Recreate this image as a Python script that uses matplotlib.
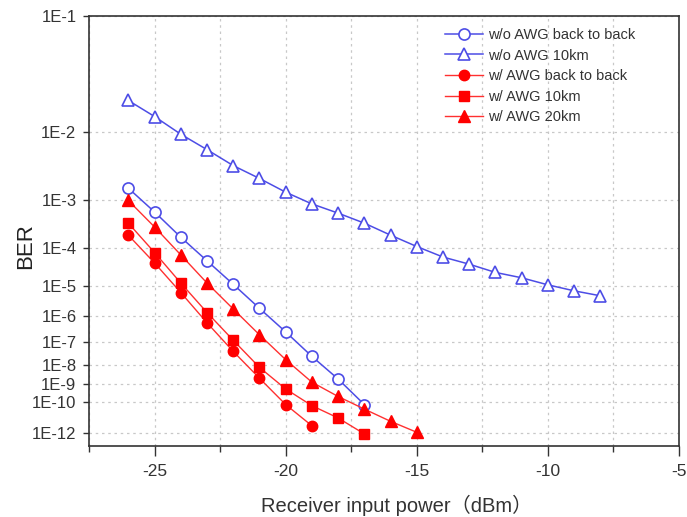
import numpy as np
import matplotlib
matplotlib.use("Agg")
import matplotlib.pyplot as plt
from matplotlib.ticker import FixedLocator, NullLocator, MultipleLocator

plt.rcParams['font.family'] = ['Liberation Sans', 'Noto Sans CJK SC', 'DejaVu Sans']
plt.rcParams['axes.unicode_minus'] = False

# 数据 (BER 读数)
x_wo_b2b = [-26, -25, -24, -23, -22, -21, -20, -19, -18, -17]
ber_wo_b2b = [1.6e-3, 6.0e-4, 1.8e-4, 4.9e-5, 1.1e-5, 1.9e-6, 2.6e-7, 2.4e-8, 1.9e-9, 7e-11]

x_wo_10 = [-26, -25, -24, -23, -22, -21, -20, -19, -18, -17, -16, -15, -14,
           -13, -12, -11, -10, -9, -8]
ber_wo_10 = [2.2e-2, 1.5e-2, 9.4e-3, 6.0e-3, 3.6e-3, 2.3e-3, 1.37e-3, 8.5e-4,
             5.7e-4, 3.6e-4, 2.0e-4, 1.1e-4, 6.1e-5, 4.0e-5, 2.4e-5, 1.7e-5,
             1.06e-5, 7.0e-6, 4.9e-6]

x_w_b2b = [-26, -25, -24, -23, -22, -21, -20, -19]
ber_w_b2b = [2.0e-4, 4.3e-5, 6.2e-6, 5.8e-7, 4.0e-8, 2.1e-9, 7e-11, 3e-12]

x_w_10 = [-26, -25, -24, -23, -22, -21, -20, -19, -18, -17]
ber_w_10 = [3.6e-4, 7.9e-5, 1.2e-5, 1.36e-6, 1.2e-7, 7.3e-9, 5.6e-10, 6e-11, 1e-11, 8e-13]

x_w_20 = [-26, -25, -24, -23, -22, -21, -20, -19, -18, -17, -16, -15]
ber_w_20 = [9.8e-4, 3.0e-4, 6.9e-5, 1.2e-5, 1.8e-6, 2.0e-7, 1.7e-8, 1.3e-9,
            2.1e-10, 3.7e-11, 6e-12, 1.05e-12]

ytick_vals = [1e-1, 1e-2, 1e-3, 1e-4, 1e-5, 1e-6, 1e-7, 1e-8, 1e-9, 1e-10, 1e-12]
ytick_labels = ['1E-1', '1E-2', '1E-3', '1E-4', '1E-5', '1E-6', '1E-7', '1E-8',
                '1E-9', '1E-10', '1E-12']


# BER 坐标: -log10(-log10(BER))
def fwd(b):
    b = np.asarray(b, dtype=float)
    with np.errstate(all='ignore'):
        b = np.clip(b, 1e-300, 0.999999)
        return -np.log10(-np.log10(b))


def inv(y):
    y = np.asarray(y, dtype=float)
    with np.errstate(all='ignore'):
        return 10.0 ** (-(10.0 ** (-y)))


blue = '#4d4de6'
red = '#ff0000'

fig = plt.figure(figsize=(6.87, 5.17), dpi=100)
ax = fig.add_axes([89 / 687, 1 - 446 / 517, (679 - 89) / 687, (446 - 15.7) / 517])

ax.plot(x_wo_b2b, ber_wo_b2b, '-', color=blue, lw=1.1, marker='o', ms=8,
        mfc='white', mec=blue, mew=1.2, label='w/o AWG back to back')
ax.plot(x_wo_10, ber_wo_10, '-', color=blue, lw=1.1, marker='^', ms=8.5,
        mfc='white', mec=blue, mew=1.2, label='w/o AWG 10km')
ax.plot(x_w_b2b, ber_w_b2b, '-', color='#ff3030', lw=1.0, marker='o', ms=7.5,
        mfc=red, mec=red, label='w/ AWG back to back')
ax.plot(x_w_10, ber_w_10, '-', color='#ff3030', lw=1.0, marker='s', ms=7,
        mfc=red, mec=red, label='w/ AWG 10km')
ax.plot(x_w_20, ber_w_20, '-', color='#ff3030', lw=1.0, marker='^', ms=8,
        mfc=red, mec=red, label='w/ AWG 20km')

ax.set_yscale('function', functions=(fwd, inv))
ax.set_ylim(1.0e-13, 1e-1)
ax.yaxis.set_major_locator(FixedLocator(ytick_vals))
ax.set_yticklabels(ytick_labels)
ax.yaxis.set_minor_locator(NullLocator())

ax.set_xlim(-27.5, -5)
ax.xaxis.set_major_locator(MultipleLocator(5))
ax.xaxis.set_minor_locator(MultipleLocator(2.5))

ax.grid(True, which='major', axis='y', color='#c8c8c8', ls=(0, (2, 3)), lw=0.9)
ax.grid(True, which='both', axis='x', color='#c8c8c8', ls=(0, (2, 3)), lw=0.9)
ax.set_axisbelow(True)

ax.tick_params(axis='y', which='major', direction='out', length=4, width=1,
               labelsize=12, pad=5, colors='#333333', labelcolor='#333333')
ax.tick_params(axis='x', which='major', direction='out', length=7, width=1,
               labelsize=12.5, pad=6, colors='#333333', labelcolor='#333333')
ax.tick_params(axis='x', which='minor', direction='out', length=4, width=1,
               colors='#333333')
for sp in ax.spines.values():
    sp.set_color('#333333')
    sp.set_linewidth(1.2)

ax.set_ylabel('BER', fontsize=16, color='#222222')
ax.yaxis.set_label_coords(-0.09, 0.465)
ax.set_xlabel('Receiver input power（dBm）', fontsize=14.5, color='#333333')
ax.xaxis.set_label_coords(0.522, -0.113)

ax.legend(loc='upper left', bbox_to_anchor=(445 / 687, 1 - 28 / 517),
          bbox_transform=fig.transFigure, frameon=False, fontsize=10.5,
          borderaxespad=0, borderpad=0, handlelength=2.6, handletextpad=0.35,
          labelspacing=0.45, labelcolor='#333333')

fig.savefig('out.png', dpi=100)
